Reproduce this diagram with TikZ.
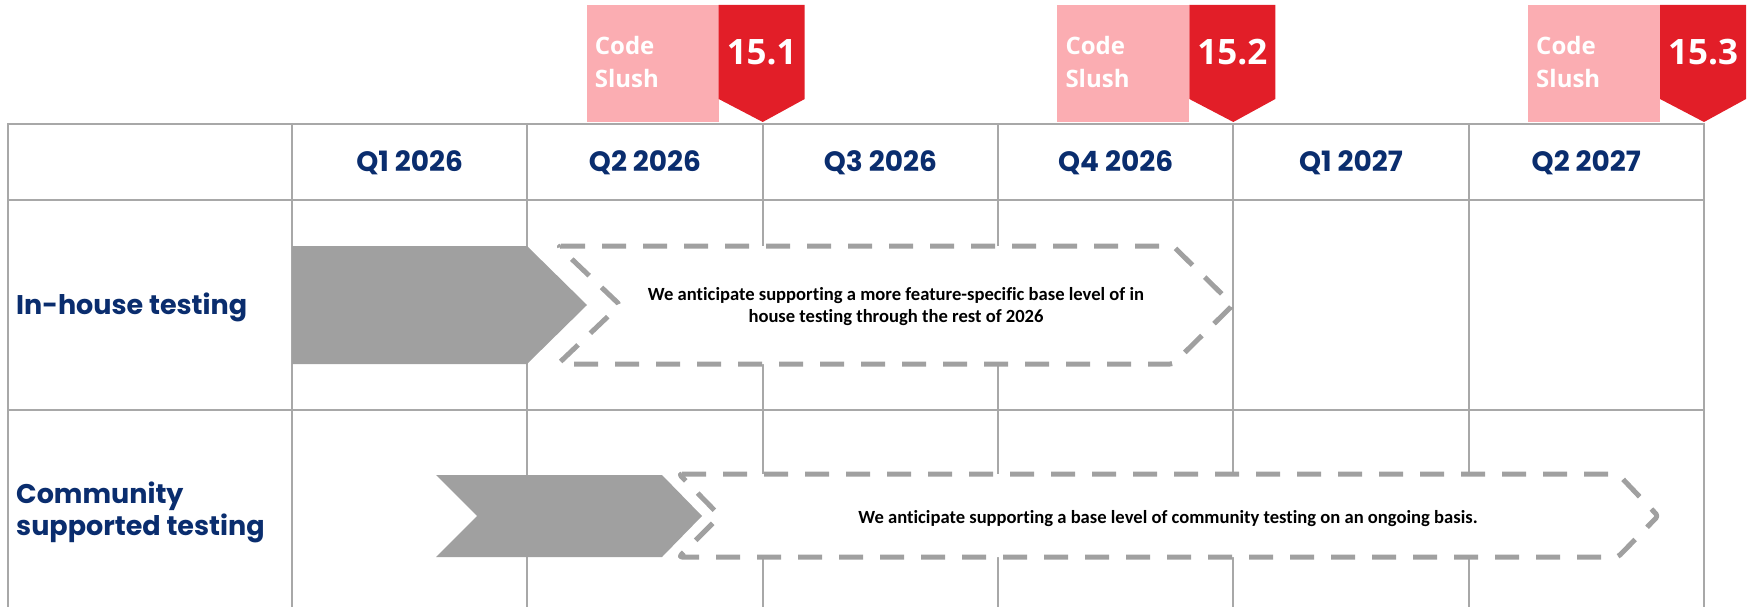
\documentclass[tikz,border=0pt]{standalone}
\usepackage{fontspec}
\newfontfamily\hdfont{Poppins}
\newfontfamily\osfont{Open Sans}
\newfontfamily\calfont{Carlito}[Ligatures={NoCommon}]
\definecolor{navy}{RGB}{10,45,110}
\definecolor{slushpink}{RGB}{251,173,178}
\definecolor{relred}{RGB}{226,30,40}
\definecolor{barfill}{RGB}{160,160,160}
\definecolor{gridcol}{RGB}{168,168,168}
\tikzset{
  gridline/.style={draw=gridcol, line width=2pt},
  hdr/.style={font=\hdfont\bfseries\fontsize{28}{32}\selectfont, text=navy, anchor=base, inner sep=0pt},
  rowlbl/.style={font=\hdfont\bfseries\fontsize{27}{32}\selectfont, text=navy, align=left, inner sep=0pt},
  solidbar/.style={fill=barfill, draw=none},
  dashbox/.style={draw=barfill, fill=white, line width=5pt, dash pattern=on 24pt off 17pt, line join=round, rounded corners=3pt},
  desc/.style={font=\calfont\bfseries\fontsize{18.6}{21.5}\selectfont, align=center, text=black, inner sep=0pt},
  slushtxt/.style={font=\osfont\bfseries\fontsize{24}{33}\selectfont, text=white, align=left, inner sep=0pt},
  vertxt/.style={font=\osfont\bfseries\fontsize{35}{40}\selectfont, text=white, anchor=base, inner sep=0pt}
}
\begin{document}
\begin{tikzpicture}[x=1pt,y=-1pt]
\useasboundingbox (0,0) rectangle (1750,607);
% grid
\foreach \x in {8,292,527.3,762.7,998,1233.3,1468.7,1704}
  \draw[gridline] (\x,123) -- (\x,610);
\foreach \y in {124,200,410}
  \draw[gridline] (7,\y) -- (1705,\y);
% headers
\foreach \i/\t in {0/Q1 2026,1/Q2 2026,2/Q3 2026,3/Q4 2026,4/Q1 2027,5/Q2 2027}
  \node[hdr] (hdr\i) at ({292+235.33*\i+117.67},171.5) {\t};
% row labels
\node[rowlbl, anchor=base west] (lblA) at (16,314) {In-house testing};
\node[rowlbl, anchor=west] (lblB) at (16,512) {Community\\supported testing};
% row 1
\fill[solidbar] (292,246) -- (527,246) -- (587,305) -- (527,364) -- (292,364) -- cycle;
\draw[dashbox] (558,246) -- (1173,246) -- (1233,305) -- (1173,364) -- (558,364) -- (620,305) -- cycle;
\node[desc] (descA) at (896,306.5) {We anticipate supporting a more feature-specific base level of in\\house testing through the rest of 2026};
% row 2
\fill[solidbar] (436,475) -- (662,475) -- (702,516) -- (662,557) -- (436,557) -- (477,516) -- cycle;
\draw[dashbox] (679,474) -- (1618,474) -- (1658,516) -- (1618,557) -- (679,557) -- (720,516) -- cycle;
\node[desc] (descB) at (1168,519) {We anticipate supporting a base level of community testing on an ongoing basis.};
% code slush markers
\foreach \p/\v in {762.7/15.1,1233.3/15.2,1704/15.3}{
  \fill[slushpink] (\p-176,5) rectangle (\p-44,122);
  \fill[relred] (\p-44,5) -- (\p+42,5) -- (\p+42,99) -- (\p,122) -- (\p-44,99) -- cycle;
  \node[slushtxt, anchor=base west] (slush\v) at (\p-168,88) {Code\\Slush};
  \node[vertxt] (ver\v) at (\p-1,65) {\v};
}
\end{tikzpicture}
\end{document}
